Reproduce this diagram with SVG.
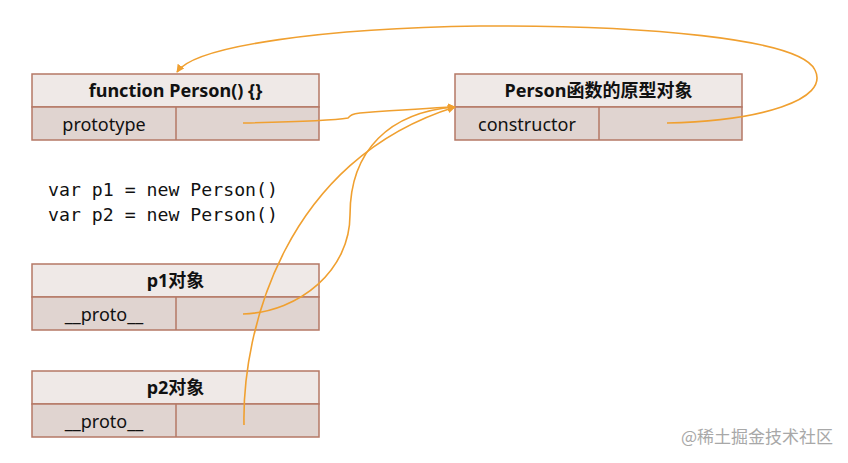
<svg xmlns="http://www.w3.org/2000/svg" width="848" height="463" viewBox="0 0 848 463">
<defs>
<style>
.hd{fill:#EFE9E7;stroke:#B57866;stroke-width:1.5}
.rw{fill:#E0D4D0;stroke:#B57866;stroke-width:1.5}
.t{font-family:"Noto Sans","Noto Sans CJK SC",sans-serif;font-size:18px;fill:#111;text-anchor:middle}
.b{font-weight:bold}
.code{font-family:"DejaVu Sans Mono",monospace;font-size:18.2px;fill:#111}
.c{fill:none;stroke:#F0A030;stroke-width:1.6}
</style>
<marker id="ah" viewBox="0 0 10 10" refX="9" refY="5" markerWidth="8" markerHeight="8" markerUnits="userSpaceOnUse" orient="auto">
<path d="M0,0 L10,5 L0,10 z" fill="#F0A030"/>
</marker>
</defs>
<rect width="848" height="463" fill="#fff"/>
<g id="person-fn">
<rect class="hd" x="32" y="74" width="287" height="33"/>
<rect class="rw" x="32" y="107" width="287" height="33"/>
<line class="rw" x1="176" y1="107" x2="176" y2="140"/>
<text class="t b" x="175.5" y="97">function Person() {}</text>
<text class="t" x="104" y="131">prototype</text>
</g>
<g id="person-proto">
<rect class="hd" x="455" y="74" width="287" height="33"/>
<rect class="rw" x="455" y="107" width="287" height="33"/>
<line class="rw" x1="599" y1="107" x2="599" y2="140"/>
<text class="t b" x="598.5" y="97">Person函数的原型对象</text>
<text class="t" x="527" y="131">constructor</text>
</g>
<g id="code">
<text class="code" x="48" y="196">var p1 = new Person()</text>
<text class="code" x="48" y="221">var p2 = new Person()</text>
</g>
<g id="p1">
<rect class="hd" x="32" y="264" width="287" height="33"/>
<rect class="rw" x="32" y="297" width="287" height="33"/>
<line class="rw" x1="176" y1="297" x2="176" y2="330"/>
<text class="t b" x="175.5" y="287">p1对象</text>
<text class="t" x="104" y="321">__proto__</text>
</g>
<g id="p2">
<rect class="hd" x="32" y="371" width="287" height="33"/>
<rect class="rw" x="32" y="404" width="287" height="33"/>
<line class="rw" x1="176" y1="404" x2="176" y2="437"/>
<text class="t b" x="175.5" y="394">p2对象</text>
<text class="t" x="104" y="428">__proto__</text>
</g>
<g id="connectors">
<path class="c" marker-end="url(#ah)" d="M243,123 C290,122 330,121 348,118 C351,115 352,114 360,113 C400,110 430,108 455,107"/>
<path class="c" marker-end="url(#ah)" d="M667,123 C760,121 830,100 815,70 C800,38 640,25 480,26 C330,28 195,45 177,72"/>
<path class="c" marker-end="url(#ah)" d="M243,314 C300,312 350,270 350,215 C350,150 390,112 455,107"/>
<path class="c" marker-end="url(#ah)" d="M244,425 C242,330 285,160 455,107"/>
</g>
<text x="833" y="443" font-family="'Noto Sans CJK SC',sans-serif" font-size="17" fill="#A8A8A8" text-anchor="end">@稀土掘金技术社区</text>
</svg>
